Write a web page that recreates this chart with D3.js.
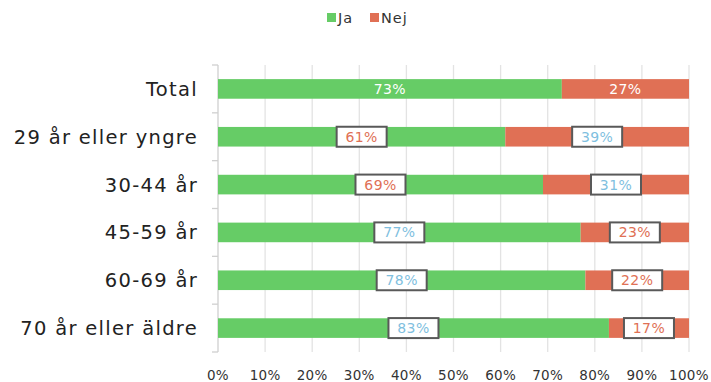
<!DOCTYPE html>
<html><head><meta charset="utf-8">
<script src="https://cdn.jsdelivr.net/npm/d3@7"></script>
<style>body{margin:0;background:#fff;} text{font-family:"DejaVu Sans",sans-serif;}</style>
</head><body><svg id="c" width="711" height="382"></svg>
<script>
const categories = ["Total","29 år eller yngre","30-44 år","45-59 år","60-69 år","70 år eller äldre"];
const seriesNames = ["Ja","Nej"];
const jaValues = [73,61,69,77,78,83];
const nejValues = [27,39,31,23,22,17];
// label style: "plain" = white text on bar, "low"/"high" = boxed label colored by significance
const jaLabelType = ["plain","low","low","high","high","high"];
const nejLabelType = ["plain","high","high","low","low","low"];
const xTicks = [0,10,20,30,40,50,60,70,80,90,100];

const colors = {Ja:"#66cc66", Nej:"#e07055"};
const labelColors = {plain:"#ffffff", low:"#e07055", high:"#7fbfe0"};

const svg = d3.select("#c");
const m = {left:218, right:689, top:65, bottom:352};
const x = d3.scaleLinear().domain([0,100]).range([m.left,m.right]);
const y = d3.scaleBand().domain(categories).range([m.top,m.bottom]).paddingInner(0.59).paddingOuter(0.295);

// gridlines
svg.append("g").selectAll("line").data(xTicks.slice(1)).join("line")
  .attr("x1",d=>x(d)).attr("x2",d=>x(d)).attr("y1",m.top).attr("y2",m.bottom)
  .attr("stroke","#e3e3e3").attr("stroke-width",1.3);

// x axis labels
svg.append("g").selectAll("text").data(xTicks).join("text")
  .attr("x",d=>x(d)).attr("y",380).attr("text-anchor","middle")
  .attr("font-size",13.5).attr("letter-spacing",0.3).attr("fill","#333").text(d=>d+"%");

// left axis
const band = (m.bottom-m.top)/categories.length;
svg.append("line").attr("x1",m.left).attr("x2",m.left).attr("y1",m.top).attr("y2",m.bottom)
  .attr("stroke","#d0d0d0").attr("stroke-width",1.3);
svg.append("g").selectAll("line").data(d3.range(categories.length+1)).join("line")
  .attr("x1",m.left-6).attr("x2",m.left).attr("y1",i=>m.top+i*band).attr("y2",i=>m.top+i*band)
  .attr("stroke","#d0d0d0").attr("stroke-width",1.3);

// category labels
svg.append("g").selectAll("text").data(categories).join("text")
  .attr("x",198).attr("y",d=>y(d)+y.bandwidth()/2).attr("dy","0.36em")
  .attr("text-anchor","end").attr("font-size",19.5).attr("letter-spacing",1.3)
  .attr("fill","#222").text(d=>d);

// bars
const rows = categories.map((c,i)=>({c, ja:jaValues[i], nej:nejValues[i], jt:jaLabelType[i], nt:nejLabelType[i]}));
const g = svg.append("g");
rows.forEach(r=>{
  const segs = [
    {s:"Ja", x0:0, x1:r.ja, v:r.ja, t:r.jt},
    {s:"Nej", x0:r.ja, x1:r.ja+r.nej, v:r.nej, t:r.nt}
  ];
  segs.forEach(sg=>{
    g.append("rect").attr("x",x(sg.x0)).attr("y",y(r.c)).attr("width",x(sg.x1)-x(sg.x0))
      .attr("height",y.bandwidth()).attr("fill",colors[sg.s]);
  });
  segs.forEach(sg=>{
    const cx = (x(sg.x0)+x(sg.x1))/2, cy = y(r.c)+y.bandwidth()/2;
    if(sg.t!=="plain"){
      g.append("rect").attr("x",cx-25).attr("y",cy-10).attr("width",50).attr("height",20)
        .attr("fill","#fff").attr("stroke","#595959").attr("stroke-width",2);
    }
    g.append("text").attr("x",cx).attr("y",cy).attr("dy","0.36em").attr("text-anchor","middle")
      .attr("font-size",14).attr("letter-spacing",0.4).attr("fill",labelColors[sg.t]).text(sg.v+"%");
  });
});

// legend
const lg = svg.append("g");
const legX = [327,370];
seriesNames.forEach((s,i)=>{
  lg.append("rect").attr("x",legX[i]).attr("y",13).attr("width",9).attr("height",9).attr("fill",colors[s]);
  lg.append("text").attr("x",legX[i]+11).attr("y",18).attr("dy","0.36em").attr("font-size",14.5)
    .attr("letter-spacing",1).attr("fill","#333").text(s);
});
</script></body></html>
